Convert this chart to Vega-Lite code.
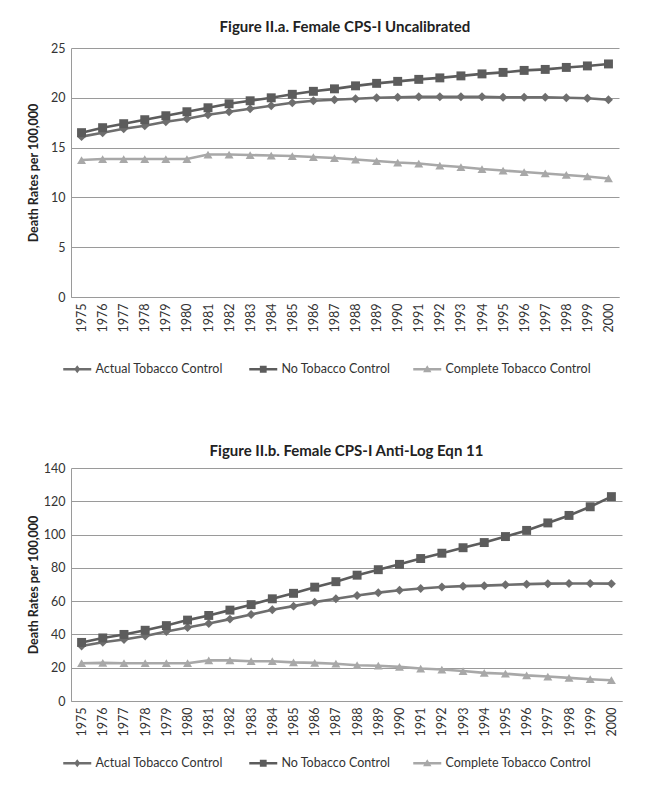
{
  "$schema": "https://vega.github.io/schema/vega-lite/v6.json",
  "padding": {"left": 27, "top": 20, "right": 5, "bottom": 5},
  "background": "white",
  "config": {
    "font": "Lato",
    "view": {"stroke": null},
    "title": {"font": "Lato", "fontSize": 15, "fontWeight": "bold", "color": "#222", "anchor": "middle", "offset": 7},
    "axis": {"labelFont": "Lato", "titleFont": "Lato", "labelColor": "#333", "titleColor": "#222", "labelFontSize": 12.5, "titleFontSize": 12.5, "titleFontWeight": "bold", "domainColor": "#9a9a9a", "gridColor": "#9a9a9a", "ticks": false},
    "legend": {"labelFont": "Lato", "labelFontSize": 12.5, "labelColor": "#333", "padding": 0, "title": null, "orient": "none", "symbolOpacity": 1, "symbolSize": 64, "symbolStrokeWidth": 0, "labelOffset": 12},
    "concat": {"spacing": 68}
  },
  "resolve": {"scale": {"shape": "independent", "color": "independent", "stroke": "independent"}, "legend": {"shape": "independent"}},
  "datasets": {
    "a": [
      {"year": "1975", "series": "Actual Tobacco Control", "value": 16.1},
      {"year": "1976", "series": "Actual Tobacco Control", "value": 16.5},
      {"year": "1977", "series": "Actual Tobacco Control", "value": 16.9},
      {"year": "1978", "series": "Actual Tobacco Control", "value": 17.2},
      {"year": "1979", "series": "Actual Tobacco Control", "value": 17.6},
      {"year": "1980", "series": "Actual Tobacco Control", "value": 17.9},
      {"year": "1981", "series": "Actual Tobacco Control", "value": 18.3},
      {"year": "1982", "series": "Actual Tobacco Control", "value": 18.6},
      {"year": "1983", "series": "Actual Tobacco Control", "value": 18.9},
      {"year": "1984", "series": "Actual Tobacco Control", "value": 19.2},
      {"year": "1985", "series": "Actual Tobacco Control", "value": 19.5},
      {"year": "1986", "series": "Actual Tobacco Control", "value": 19.7},
      {"year": "1987", "series": "Actual Tobacco Control", "value": 19.8},
      {"year": "1988", "series": "Actual Tobacco Control", "value": 19.9},
      {"year": "1989", "series": "Actual Tobacco Control", "value": 20.0},
      {"year": "1990", "series": "Actual Tobacco Control", "value": 20.05},
      {"year": "1991", "series": "Actual Tobacco Control", "value": 20.1},
      {"year": "1992", "series": "Actual Tobacco Control", "value": 20.1},
      {"year": "1993", "series": "Actual Tobacco Control", "value": 20.1},
      {"year": "1994", "series": "Actual Tobacco Control", "value": 20.1},
      {"year": "1995", "series": "Actual Tobacco Control", "value": 20.05},
      {"year": "1996", "series": "Actual Tobacco Control", "value": 20.05},
      {"year": "1997", "series": "Actual Tobacco Control", "value": 20.05},
      {"year": "1998", "series": "Actual Tobacco Control", "value": 20.0},
      {"year": "1999", "series": "Actual Tobacco Control", "value": 19.95},
      {"year": "2000", "series": "Actual Tobacco Control", "value": 19.8},
      {"year": "1975", "series": "No Tobacco Control", "value": 16.5},
      {"year": "1976", "series": "No Tobacco Control", "value": 17.0},
      {"year": "1977", "series": "No Tobacco Control", "value": 17.4},
      {"year": "1978", "series": "No Tobacco Control", "value": 17.8},
      {"year": "1979", "series": "No Tobacco Control", "value": 18.2},
      {"year": "1980", "series": "No Tobacco Control", "value": 18.6},
      {"year": "1981", "series": "No Tobacco Control", "value": 19.0},
      {"year": "1982", "series": "No Tobacco Control", "value": 19.4},
      {"year": "1983", "series": "No Tobacco Control", "value": 19.7},
      {"year": "1984", "series": "No Tobacco Control", "value": 20.0},
      {"year": "1985", "series": "No Tobacco Control", "value": 20.35},
      {"year": "1986", "series": "No Tobacco Control", "value": 20.65},
      {"year": "1987", "series": "No Tobacco Control", "value": 20.9},
      {"year": "1988", "series": "No Tobacco Control", "value": 21.2},
      {"year": "1989", "series": "No Tobacco Control", "value": 21.45},
      {"year": "1990", "series": "No Tobacco Control", "value": 21.65},
      {"year": "1991", "series": "No Tobacco Control", "value": 21.85},
      {"year": "1992", "series": "No Tobacco Control", "value": 22.0},
      {"year": "1993", "series": "No Tobacco Control", "value": 22.2},
      {"year": "1994", "series": "No Tobacco Control", "value": 22.4},
      {"year": "1995", "series": "No Tobacco Control", "value": 22.55},
      {"year": "1996", "series": "No Tobacco Control", "value": 22.75},
      {"year": "1997", "series": "No Tobacco Control", "value": 22.85},
      {"year": "1998", "series": "No Tobacco Control", "value": 23.05},
      {"year": "1999", "series": "No Tobacco Control", "value": 23.2},
      {"year": "2000", "series": "No Tobacco Control", "value": 23.4},
      {"year": "1975", "series": "Complete Tobacco Control", "value": 13.75},
      {"year": "1976", "series": "Complete Tobacco Control", "value": 13.85},
      {"year": "1977", "series": "Complete Tobacco Control", "value": 13.85},
      {"year": "1978", "series": "Complete Tobacco Control", "value": 13.85},
      {"year": "1979", "series": "Complete Tobacco Control", "value": 13.85},
      {"year": "1980", "series": "Complete Tobacco Control", "value": 13.85},
      {"year": "1981", "series": "Complete Tobacco Control", "value": 14.3},
      {"year": "1982", "series": "Complete Tobacco Control", "value": 14.3},
      {"year": "1983", "series": "Complete Tobacco Control", "value": 14.25},
      {"year": "1984", "series": "Complete Tobacco Control", "value": 14.2},
      {"year": "1985", "series": "Complete Tobacco Control", "value": 14.15},
      {"year": "1986", "series": "Complete Tobacco Control", "value": 14.05},
      {"year": "1987", "series": "Complete Tobacco Control", "value": 13.95},
      {"year": "1988", "series": "Complete Tobacco Control", "value": 13.8},
      {"year": "1989", "series": "Complete Tobacco Control", "value": 13.65},
      {"year": "1990", "series": "Complete Tobacco Control", "value": 13.5},
      {"year": "1991", "series": "Complete Tobacco Control", "value": 13.4},
      {"year": "1992", "series": "Complete Tobacco Control", "value": 13.2},
      {"year": "1993", "series": "Complete Tobacco Control", "value": 13.05},
      {"year": "1994", "series": "Complete Tobacco Control", "value": 12.85},
      {"year": "1995", "series": "Complete Tobacco Control", "value": 12.7},
      {"year": "1996", "series": "Complete Tobacco Control", "value": 12.55},
      {"year": "1997", "series": "Complete Tobacco Control", "value": 12.4},
      {"year": "1998", "series": "Complete Tobacco Control", "value": 12.25},
      {"year": "1999", "series": "Complete Tobacco Control", "value": 12.1},
      {"year": "2000", "series": "Complete Tobacco Control", "value": 11.9}
    ],
    "b": [
      {"year": "1975", "series": "Actual Tobacco Control", "value": 33.0},
      {"year": "1976", "series": "Actual Tobacco Control", "value": 35.3},
      {"year": "1977", "series": "Actual Tobacco Control", "value": 37.0},
      {"year": "1978", "series": "Actual Tobacco Control", "value": 39.0},
      {"year": "1979", "series": "Actual Tobacco Control", "value": 41.7},
      {"year": "1980", "series": "Actual Tobacco Control", "value": 44.2},
      {"year": "1981", "series": "Actual Tobacco Control", "value": 46.6},
      {"year": "1982", "series": "Actual Tobacco Control", "value": 49.2},
      {"year": "1983", "series": "Actual Tobacco Control", "value": 52.0},
      {"year": "1984", "series": "Actual Tobacco Control", "value": 54.8},
      {"year": "1985", "series": "Actual Tobacco Control", "value": 57.0},
      {"year": "1986", "series": "Actual Tobacco Control", "value": 59.4},
      {"year": "1987", "series": "Actual Tobacco Control", "value": 61.4},
      {"year": "1988", "series": "Actual Tobacco Control", "value": 63.4},
      {"year": "1989", "series": "Actual Tobacco Control", "value": 65.1},
      {"year": "1990", "series": "Actual Tobacco Control", "value": 66.5},
      {"year": "1991", "series": "Actual Tobacco Control", "value": 67.6},
      {"year": "1992", "series": "Actual Tobacco Control", "value": 68.5},
      {"year": "1993", "series": "Actual Tobacco Control", "value": 69.0},
      {"year": "1994", "series": "Actual Tobacco Control", "value": 69.3},
      {"year": "1995", "series": "Actual Tobacco Control", "value": 69.8},
      {"year": "1996", "series": "Actual Tobacco Control", "value": 70.2},
      {"year": "1997", "series": "Actual Tobacco Control", "value": 70.5},
      {"year": "1998", "series": "Actual Tobacco Control", "value": 70.6},
      {"year": "1999", "series": "Actual Tobacco Control", "value": 70.6},
      {"year": "2000", "series": "Actual Tobacco Control", "value": 70.5},
      {"year": "1975", "series": "No Tobacco Control", "value": 35.2},
      {"year": "1976", "series": "No Tobacco Control", "value": 37.9},
      {"year": "1977", "series": "No Tobacco Control", "value": 40.0},
      {"year": "1978", "series": "No Tobacco Control", "value": 42.5},
      {"year": "1979", "series": "No Tobacco Control", "value": 45.3},
      {"year": "1980", "series": "No Tobacco Control", "value": 48.6},
      {"year": "1981", "series": "No Tobacco Control", "value": 51.4},
      {"year": "1982", "series": "No Tobacco Control", "value": 54.6},
      {"year": "1983", "series": "No Tobacco Control", "value": 57.9},
      {"year": "1984", "series": "No Tobacco Control", "value": 61.4},
      {"year": "1985", "series": "No Tobacco Control", "value": 64.7},
      {"year": "1986", "series": "No Tobacco Control", "value": 68.4},
      {"year": "1987", "series": "No Tobacco Control", "value": 71.7},
      {"year": "1988", "series": "No Tobacco Control", "value": 75.6},
      {"year": "1989", "series": "No Tobacco Control", "value": 78.9},
      {"year": "1990", "series": "No Tobacco Control", "value": 82.1},
      {"year": "1991", "series": "No Tobacco Control", "value": 85.6},
      {"year": "1992", "series": "No Tobacco Control", "value": 88.8},
      {"year": "1993", "series": "No Tobacco Control", "value": 92.1},
      {"year": "1994", "series": "No Tobacco Control", "value": 95.2},
      {"year": "1995", "series": "No Tobacco Control", "value": 98.8},
      {"year": "1996", "series": "No Tobacco Control", "value": 102.5},
      {"year": "1997", "series": "No Tobacco Control", "value": 107.0},
      {"year": "1998", "series": "No Tobacco Control", "value": 111.5},
      {"year": "1999", "series": "No Tobacco Control", "value": 116.7},
      {"year": "2000", "series": "No Tobacco Control", "value": 122.8},
      {"year": "1975", "series": "Complete Tobacco Control", "value": 22.7},
      {"year": "1976", "series": "Complete Tobacco Control", "value": 22.9},
      {"year": "1977", "series": "Complete Tobacco Control", "value": 22.7},
      {"year": "1978", "series": "Complete Tobacco Control", "value": 22.7},
      {"year": "1979", "series": "Complete Tobacco Control", "value": 22.7},
      {"year": "1980", "series": "Complete Tobacco Control", "value": 22.7},
      {"year": "1981", "series": "Complete Tobacco Control", "value": 24.4},
      {"year": "1982", "series": "Complete Tobacco Control", "value": 24.4},
      {"year": "1983", "series": "Complete Tobacco Control", "value": 23.9},
      {"year": "1984", "series": "Complete Tobacco Control", "value": 23.9},
      {"year": "1985", "series": "Complete Tobacco Control", "value": 23.2},
      {"year": "1986", "series": "Complete Tobacco Control", "value": 22.9},
      {"year": "1987", "series": "Complete Tobacco Control", "value": 22.4},
      {"year": "1988", "series": "Complete Tobacco Control", "value": 21.5},
      {"year": "1989", "series": "Complete Tobacco Control", "value": 21.2},
      {"year": "1990", "series": "Complete Tobacco Control", "value": 20.5},
      {"year": "1991", "series": "Complete Tobacco Control", "value": 19.5},
      {"year": "1992", "series": "Complete Tobacco Control", "value": 18.9},
      {"year": "1993", "series": "Complete Tobacco Control", "value": 18.0},
      {"year": "1994", "series": "Complete Tobacco Control", "value": 16.9},
      {"year": "1995", "series": "Complete Tobacco Control", "value": 16.4},
      {"year": "1996", "series": "Complete Tobacco Control", "value": 15.4},
      {"year": "1997", "series": "Complete Tobacco Control", "value": 14.7},
      {"year": "1998", "series": "Complete Tobacco Control", "value": 13.9},
      {"year": "1999", "series": "Complete Tobacco Control", "value": 13.1},
      {"year": "2000", "series": "Complete Tobacco Control", "value": 12.5}
    ]
  },
  "vconcat": [
    {
      "title": {"text": "Figure II.a. Female CPS-I Uncalibrated", "offset": 7},
      "width": 548,
      "height": 249,
      "data": {"name": "a"},
      "encoding": {
        "x": {"field": "year", "type": "ordinal", "scale": {"type": "point", "padding": 0.5}, "axis": {"title": null, "labelAngle": -90, "labelPadding": 6, "grid": false}},
        "y": {"field": "value", "type": "quantitative", "scale": {"domain": [0, 25]}, "axis": {"title": "Death Rates per 100,000", "values": [0, 5, 10, 15, 20, 25], "domain": true, "labelPadding": 6, "titlePadding": 10}}
      },
      "layer": [
        {"mark": {"type": "line", "strokeWidth": 2.6}, "encoding": {"stroke": {"field": "series", "type": "nominal", "sort": ["Actual Tobacco Control", "No Tobacco Control", "Complete Tobacco Control"], "scale": {"range": ["#6e6e6e", "#5c5c5c", "#a8a8a8"]}, "legend": null}}},
        {"transform": [{"filter": "datum.series == 'Actual Tobacco Control'"}], "mark": {"type": "point", "filled": true, "opacity": 1, "shape": "diamond", "size": 80, "color": "#6e6e6e"}},
        {"transform": [{"filter": "datum.series == 'No Tobacco Control'"}], "mark": {"type": "point", "filled": true, "opacity": 1, "shape": "square", "size": 80, "color": "#5c5c5c"}},
        {"transform": [{"filter": "datum.series == 'Complete Tobacco Control'"}], "mark": {"type": "point", "filled": true, "opacity": 1, "shape": "triangle-up", "size": 80, "color": "#a8a8a8"}},
        {"transform": [{"filter": "datum.series == 'Actual Tobacco Control'"}], "mark": {"type": "point", "filled": true, "opacity": 0, "color": "#6e6e6e"},
          "encoding": {"shape": {"field": "series", "type": "nominal", "scale": {"range": ["M-3.5,-0.3H-0.525L0,-1L0.525,-0.3H3.5V0.3H0.525L0,1L-0.525,0.3H-3.5Z"]}, "legend": {"legendX": 0, "legendY": 315}}}},
        {"transform": [{"filter": "datum.series == 'No Tobacco Control'"}], "mark": {"type": "point", "filled": true, "opacity": 0, "color": "#5c5c5c"},
          "encoding": {"shape": {"field": "series", "type": "nominal", "scale": {"range": ["M-3.5,-0.3H-0.85V-0.85H0.85V-0.3H3.5V0.3H0.85V0.85H-0.85V0.3H-3.5Z"]}, "legend": {"legendX": 186, "legendY": 315}}}},
        {"transform": [{"filter": "datum.series == 'Complete Tobacco Control'"}], "mark": {"type": "point", "filled": true, "opacity": 0, "color": "#a8a8a8"},
          "encoding": {"shape": {"field": "series", "type": "nominal", "scale": {"range": ["M-3.5,-0.3H-0.42L0,-1L0.42,-0.3H3.5V0.3H0.78L1.05,0.75H-1.05L-0.78,0.3H-3.5Z"]}, "legend": {"legendX": 350, "legendY": 315}}}}
      ],
      "resolve": {"scale": {"shape": "independent"}, "legend": {"shape": "independent"}}
    },
    {
      "title": {"text": "Figure II.b. Female CPS-I Anti-Log Eqn 11", "offset": 3},
      "width": 551,
      "height": 233,
      "data": {"name": "b"},
      "encoding": {
        "x": {"field": "year", "type": "ordinal", "scale": {"type": "point", "padding": 0.5}, "axis": {"title": null, "labelAngle": -90, "labelPadding": 6, "grid": false}},
        "y": {"field": "value", "type": "quantitative", "scale": {"domain": [0, 140]}, "axis": {"title": "Death Rates per 100,000", "values": [0, 20, 40, 60, 80, 100, 120, 140], "domain": true, "labelPadding": 6, "titlePadding": 3}}
      },
      "layer": [
        {"mark": {"type": "line", "strokeWidth": 2.6}, "encoding": {"stroke": {"field": "series", "type": "nominal", "sort": ["Actual Tobacco Control", "No Tobacco Control", "Complete Tobacco Control"], "scale": {"range": ["#6e6e6e", "#5c5c5c", "#a8a8a8"]}, "legend": null}}},
        {"transform": [{"filter": "datum.series == 'Actual Tobacco Control'"}], "mark": {"type": "point", "filled": true, "opacity": 1, "shape": "diamond", "size": 80, "color": "#6e6e6e"}},
        {"transform": [{"filter": "datum.series == 'No Tobacco Control'"}], "mark": {"type": "point", "filled": true, "opacity": 1, "shape": "square", "size": 80, "color": "#5c5c5c"}},
        {"transform": [{"filter": "datum.series == 'Complete Tobacco Control'"}], "mark": {"type": "point", "filled": true, "opacity": 1, "shape": "triangle-up", "size": 80, "color": "#a8a8a8"}},
        {"transform": [{"filter": "datum.series == 'Actual Tobacco Control'"}], "mark": {"type": "point", "filled": true, "opacity": 0, "color": "#6e6e6e"},
          "encoding": {"shape": {"field": "series", "type": "nominal", "scale": {"range": ["M-3.5,-0.3H-0.525L0,-1L0.525,-0.3H3.5V0.3H0.525L0,1L-0.525,0.3H-3.5Z"]}, "legend": {"legendX": 0, "legendY": 289}}}},
        {"transform": [{"filter": "datum.series == 'No Tobacco Control'"}], "mark": {"type": "point", "filled": true, "opacity": 0, "color": "#5c5c5c"},
          "encoding": {"shape": {"field": "series", "type": "nominal", "scale": {"range": ["M-3.5,-0.3H-0.85V-0.85H0.85V-0.3H3.5V0.3H0.85V0.85H-0.85V0.3H-3.5Z"]}, "legend": {"legendX": 186, "legendY": 289}}}},
        {"transform": [{"filter": "datum.series == 'Complete Tobacco Control'"}], "mark": {"type": "point", "filled": true, "opacity": 0, "color": "#a8a8a8"},
          "encoding": {"shape": {"field": "series", "type": "nominal", "scale": {"range": ["M-3.5,-0.3H-0.42L0,-1L0.42,-0.3H3.5V0.3H0.78L1.05,0.75H-1.05L-0.78,0.3H-3.5Z"]}, "legend": {"legendX": 350, "legendY": 289}}}}
      ],
      "resolve": {"scale": {"shape": "independent"}, "legend": {"shape": "independent"}}
    }
  ]
}
